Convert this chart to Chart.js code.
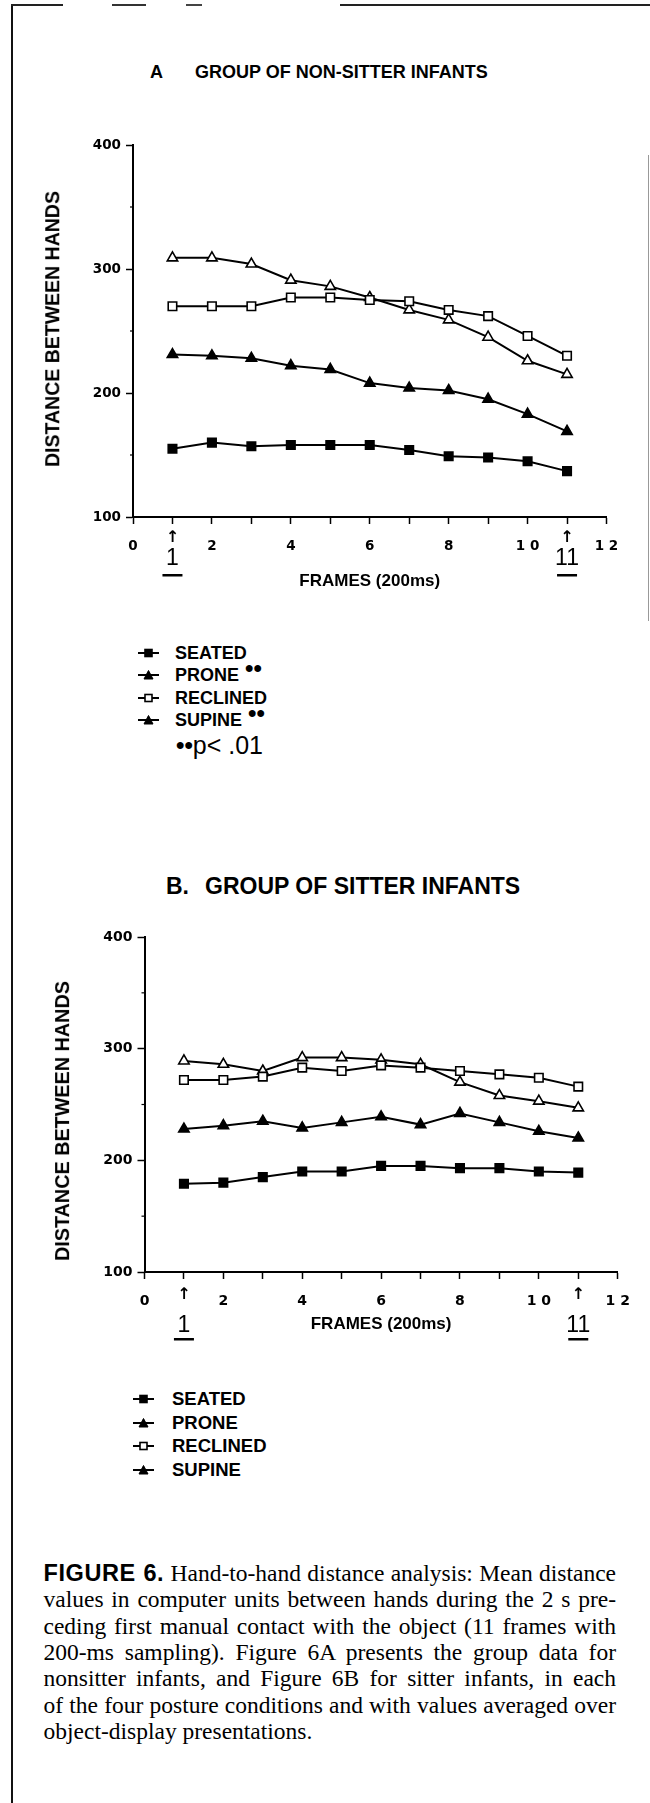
<!DOCTYPE html>
<html>
<head>
<meta charset="utf-8">
<script src="https://cdn.jsdelivr.net/npm/chart.js@4.4.0/dist/chart.umd.min.js"></script>
<style>
  html, body { margin: 0; padding: 0; background: #fff; }
  body { width: 650px; height: 1803px; position: relative; overflow: hidden;
         font-family: "Liberation Sans", Arial, sans-serif; color: #000; }
  .abs { position: absolute; white-space: nowrap; line-height: 1; }
  .bold { font-weight: bold; }
  canvas { position: absolute; left: 0; }
  .ytitle { position: absolute; white-space: nowrap; line-height: 1; font-weight: bold;
            transform: translate(-50%, -50%) rotate(-90deg); }
  .legRow { position: absolute; white-space: nowrap; font-weight: bold; line-height: 1; }
  .legRow svg { position: absolute; top: 50%; margin-top: -6px; }
  .starsWrap { position: relative; }
  .stars { position: absolute; left: 6px; top: -9px; font-size: 24px; line-height: 1; }
  .cap { position: absolute; left: 43.5px; width: 572.5px; font-family: "Liberation Serif", "Times New Roman", serif;
         font-size: 23.5px; line-height: 26px; height: 26px; white-space: nowrap;
         text-align: justify; text-align-last: justify; }
  .cap.last { text-align-last: left; }
  .cap b { font-family: "Liberation Sans", Arial, sans-serif; font-size: 23.5px; letter-spacing: 0.6px; }
</style>
</head>
<body>

<!-- page frame (scan edges) -->
<div style="position:absolute;left:11px;top:4px;width:2px;height:1799px;background:#111"></div>
<div style="position:absolute;left:11px;top:4px;width:52px;height:2px;background:#222"></div>
<div style="position:absolute;left:112px;top:4px;width:34px;height:2px;background:#333"></div>
<div style="position:absolute;left:186px;top:4px;width:16px;height:2px;background:#444"></div>
<div style="position:absolute;left:340px;top:4px;width:310px;height:2px;background:#222"></div>
<div style="position:absolute;left:648px;top:155px;width:1px;height:466px;background:#999"></div>

<div class="abs bold" style="left:150px;top:63px;font-size:18px">A</div>
<div class="abs bold" style="left:195px;top:63px;font-size:18px">GROUP OF NON-SITTER INFANTS</div>
<canvas id="chartA" width="650" height="500" style="top:100px"></canvas>
<div class="ytitle" style="left:53px;top:329px;font-size:19.5px">DISTANCE BETWEEN HANDS</div>
<div id="legendA"></div>

<div class="abs bold" style="left:166px;top:875px;font-size:23px">B.</div>
<div class="abs bold" style="left:205px;top:875px;font-size:23px">GROUP OF SITTER INFANTS</div>
<canvas id="chartB" width="650" height="490" style="top:890px"></canvas>
<div class="ytitle" style="left:63px;top:1121px;font-size:19.8px">DISTANCE BETWEEN HANDS</div>
<div id="legendB"></div>

<div id="caption"></div>

<script>
// Frames on the x axis
const frames = [1, 2, 3, 4, 5, 6, 7, 8, 9, 10, 11];
const xTickLabels = ['0', '', '2', '', '4', '', '6', '', '8', '', '1 0', '', '1 2'];
const markedFrames = [1, 11];
const yMinorTicks = [150, 250, 350];

const seriesNames = ['SEATED', 'PRONE', 'RECLINED', 'SUPINE'];
const starsA = ['', '\u2022\u2022', '', '\u2022\u2022'];

// A - non-sitter infants
const seatedA = [155, 160, 157, 158, 158, 158, 154, 149, 148, 145, 137];
const proneA = [231, 230, 228, 222, 219, 208, 204, 202, 195, 183, 169];
const reclinedA = [270, 270, 270, 277, 277, 275, 274, 267, 262, 246, 230];
const supineA = [309, 309, 304, 291, 286, 277, 267, 259, 245, 226, 215];

// B - sitter infants
const seatedB = [179, 180, 185, 190, 190, 195, 195, 193, 193, 190, 189];
const proneB = [228, 231, 235, 229, 234, 239, 232, 242, 234, 226, 220];
const reclinedB = [272, 272, 275, 283, 280, 285, 283, 280, 277, 274, 266];
const supineB = [289, 286, 280, 292, 292, 290, 286, 270, 258, 253, 247];

const pointStyles = ['rect', 'triangle', 'rect', 'triangle'];
const pointFills = ['#000', '#000', '#fff', '#fff'];

// arrows + underlined "1" and "11" under the x axis, small minor ticks on y
const frameMarks = {
    id: 'frameMarks',
    afterDraw(chart, args, opts) {
        const ctx = chart.ctx;
        const x = chart.scales.x;
        const y = chart.scales.y;
        const bottom = chart.chartArea.bottom;
        ctx.save();
        ctx.fillStyle = '#000';
        ctx.textAlign = 'center';
        ctx.textBaseline = 'alphabetic';
        markedFrames.forEach(f => {
            const px = x.getPixelForValue(f);
            ctx.font = 'bold 16px "DejaVu Sans"';
            ctx.fillText('\u2191', px, bottom + opts.arrowOffset);
            ctx.font = '23px "Liberation Sans Narrow", "Liberation Sans", Arial';
            ctx.fillText(String(f), px, bottom + opts.textOffset);
            ctx.fillRect(px - 10, bottom + opts.lineOffset, 20, 2.5);
        });
        ctx.strokeStyle = '#000';
        ctx.lineWidth = 1.2;
        yMinorTicks.forEach(v => {
            const py = y.getPixelForValue(v);
            ctx.beginPath();
            ctx.moveTo(chart.chartArea.left - 3, py);
            ctx.lineTo(chart.chartArea.left, py);
            ctx.stroke();
        });
        ctx.restore();
    }
};

function createChart(id, series, cfg) {
    const ctx = document.getElementById(id).getContext('2d');
    const tickFont = { family: 'DejaVu Sans', weight: 'bold', size: cfg.tickSize };
    return new Chart(ctx, {
        type: 'line',
        data: {
            datasets: series.map((vals, i) => ({
                label: seriesNames[i],
                data: frames.map((f, j) => ({ x: f, y: vals[j] })),
                borderColor: '#000',
                borderWidth: 2,
                pointStyle: pointStyles[i],
                pointRadius: 6,
                pointBackgroundColor: pointFills[i],
                pointBorderColor: '#000',
                pointBorderWidth: 1.6,
                tension: 0,
                fill: false
            }))
        },
        options: {
            responsive: false,
            animation: false,
            devicePixelRatio: 1,
            layout: { padding: { top: cfg.padTop, right: cfg.padRight, bottom: 0, left: 0 } },
            plugins: {
                legend: { display: false },
                tooltip: { enabled: false },
                frameMarks: { arrowOffset: cfg.markArrow, textOffset: cfg.markText, lineOffset: cfg.markLine }
            },
            scales: {
                x: {
                    type: 'linear',
                    min: 0,
                    max: 12,
                    afterFit: s => { s.height = cfg.xHeight; },
                    ticks: {
                        stepSize: 1,
                        autoSkip: false,
                        maxRotation: 0,
                        padding: 14,
                        color: '#000',
                        font: tickFont,
                        callback: v => xTickLabels[v]
                    },
                    grid: { drawOnChartArea: false, tickLength: 7, tickColor: '#000', tickWidth: 1.5 },
                    border: { color: '#000', width: 2 },
                    title: {
                        display: true,
                        text: 'FRAMES (200ms)',
                        color: '#000',
                        font: { family: 'Liberation Sans', weight: 'bold', size: 17 },
                        padding: { top: 0, bottom: cfg.xTitlePad }
                    }
                },
                y: {
                    min: 100,
                    max: 400,
                    afterFit: s => { s.width = cfg.yWidth; },
                    ticks: { stepSize: 100, padding: 5, color: '#000', font: tickFont },
                    grid: { drawOnChartArea: false, tickLength: 7, tickColor: '#000', tickWidth: 1.5 },
                    border: { color: '#000', width: 2 }
                }
            }
        },
        plugins: [frameMarks]
    });
}

function markerSvg(i) {
    let shape;
    if (pointStyles[i] === 'rect') {
        shape = '<rect x="7" y="2.5" width="7" height="7" fill="' + (i === 0 ? '#000' : '#fff') + '" stroke="#000" stroke-width="1.6"/>';
    } else {
        shape = '<polygon points="10.5,1.5 15,10 6,10" fill="#000" stroke="#000" stroke-width="1"/>';
    }
    return '<svg width="21" height="12"><line x1="0" y1="6" x2="21" y2="6" stroke="#000" stroke-width="2"/>' + shape + '</svg>';
}

function createLegend(boxId, rowsY, markerX, textX, size, stars) {
    const box = document.getElementById(boxId);
    seriesNames.forEach((name, i) => {
        const row = document.createElement('div');
        row.className = 'legRow';
        row.style.left = markerX + 'px';
        row.style.top = (rowsY[i] - size / 2) + 'px';
        row.style.fontSize = size + 'px';
        row.style.paddingLeft = (textX - markerX) + 'px';
        row.innerHTML = '<span style="position:absolute;left:0;top:0;height:' + size + 'px;width:21px">' + markerSvg(i) + '</span>' +
            name + (stars && stars[i] ? '<span class="starsWrap"><span class="stars">' + stars[i] + '</span></span>' : '');
        box.appendChild(row);
    });
}

createChart('chartA', [seatedA, proneA, reclinedA, supineA], {
    padTop: 45, padRight: 43.5, xHeight: 83, yWidth: 133, tickSize: 13.5,
    xTitlePad: 8, markArrow: 25, markText: 48, markLine: 57
});
createChart('chartB', [seatedB, proneB, reclinedB, supineB], {
    padTop: 47, padRight: 32.3, xHeight: 108, yWidth: 144.5, tickSize: 14,
    xTitlePad: 45, markArrow: 27, markText: 60, markLine: 66
});

createLegend('legendA', [653, 675, 698, 720], 138, 175, 18, starsA);
createLegend('legendB', [1399, 1423, 1446, 1470], 133, 172, 18.5, null);

// p-value note under legend A
const note = document.createElement('div');
note.className = 'abs';
note.style.left = '176px';
note.style.top = '733px';
note.innerHTML = '<span style="font-size:24px;font-weight:bold;position:relative;top:-1px">\u2022\u2022</span>' +
    '<span style="font-family:\'Liberation Sans Narrow\',\'Liberation Sans\';font-size:25px">p&lt; .01</span>';
document.body.appendChild(note);

// figure caption
const captionLines = [
    '<b>FIGURE 6.</b> Hand-to-hand distance analysis: Mean distance',
    'values in computer units between hands during the 2 s pre-',
    'ceding first manual contact with the object (11 frames with',
    '200-ms sampling). Figure 6A presents the group data for',
    'nonsitter infants, and Figure 6B for sitter infants, in each',
    'of the four posture conditions and with values averaged over',
    'object-display presentations.'
];
const caption = document.getElementById('caption');
captionLines.forEach((line, i) => {
    const div = document.createElement('div');
    div.className = 'cap' + (i === captionLines.length - 1 ? ' last' : '');
    div.style.top = (1560 + i * 26.3) + 'px';
    div.innerHTML = line;
    caption.appendChild(div);
});
</script>
</body>
</html>
